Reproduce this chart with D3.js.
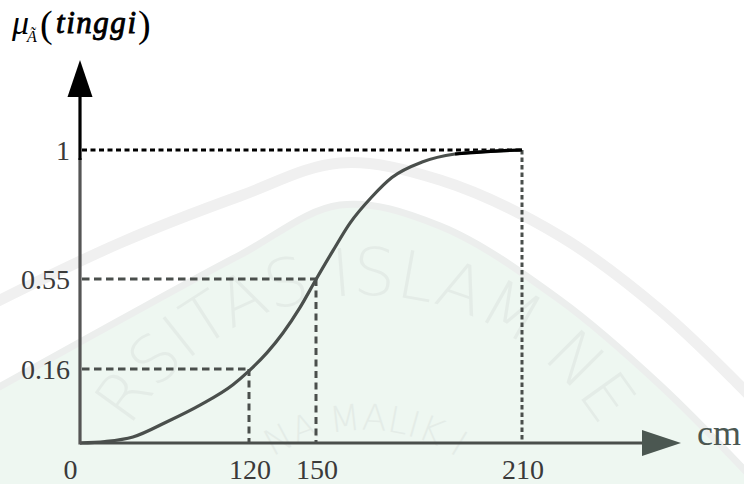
<!DOCTYPE html>
<html>
<head>
<meta charset="utf-8">
<script src="https://cdn.jsdelivr.net/npm/d3@7"></script>
<style>
  html, body { margin: 0; padding: 0; background: #fff; }
  svg { display: block; }
  text { font-family: "Liberation Serif", "Times New Roman", serif; }
</style>
</head>
<body>
<div id="chart"></div>
<script>
// membership curve of "tinggi" (height in cm)
const heightCm   = [0, 17.75, 37.6, 61.8, 85.2, 108.6, 120, 128.1, 135.2, 142.8, 150, 154.95, 159.9, 166.3, 172.1, 180.9, 190.5, 203.3, 210];
const membership = [0, 0.003, 0.013, 0.046, 0.082, 0.126, 0.156, 0.231, 0.316, 0.426, 0.548, 0.649, 0.745, 0.837, 0.904, 0.958, 0.986, 0.997, 1];

// tick values shown on the axes
const xTicks = [0, 120, 150, 210];
const yTicks = [0, 0.16, 0.55, 1];
const yTickLabels = ["", "0.16", "0.55", "1"];

// dashed guide lines (cm -> membership)
const guideCm = [120, 150, 210];
const guideMu = [0.16, 0.55, 1];

const W = 744, H = 484;
const grey = "#4a4f4c";

const svg = d3.select("#chart").append("svg")
    .attr("width", W)
    .attr("height", H);

// faint watermark in the background
const wm = svg.append("g").attr("class", "watermark");
const band = d3.line().curve(d3.curveCatmullRom);
const outer = [[-10, 305], [120, 243], [240, 196], [340, 163], [440, 180], [560, 236], [660, 310], [754, 400]];
const inner = [[-10, 392], [120, 320], [240, 255], [340, 205], [440, 226], [560, 300], [660, 385], [754, 480]];
wm.append("path")
    .attr("d", band(inner) + "L754,494L-10,494Z")
    .attr("fill", "#eef7f1");
wm.append("path").attr("d", band(outer)).attr("fill", "none")
    .attr("stroke", "#f0f0f0").attr("stroke-width", 11);
wm.append("path").attr("d", band(inner)).attr("fill", "none")
    .attr("stroke", "#eceeed").attr("stroke-width", 7);
wm.append("path").attr("id", "arcBig")
    .attr("d", "M90,570 A275,275 0 0,1 640,570").attr("fill", "none");
wm.append("path").attr("id", "arcSmall")
    .attr("d", "M195,600 A170,170 0 0,1 535,600").attr("fill", "none");
wm.append("text")
    .style("font-family", "'DejaVu Sans', sans-serif")
    .style("font-size", "66px").style("font-weight", 200)
    .attr("fill", "#e4ece7")
    .append("textPath").attr("href", "#arcBig").attr("startOffset", "50%")
    .attr("text-anchor", "middle")
    .text("RSITAS ISLAM NE");
wm.append("text")
    .style("font-family", "'DejaVu Sans', sans-serif")
    .style("font-size", "36px").style("font-weight", 200)
    .attr("fill", "#e4ece7")
    .append("textPath").attr("href", "#arcSmall").attr("startOffset", "50%")
    .attr("text-anchor", "middle")
    .text("NA MALIK I");

// piecewise scales: the figure is not drawn to scale
const x = d3.scaleLinear().domain(xTicks).range([80, 249, 316, 522]);
const y = d3.scaleLinear().domain(yTicks).range([443, 369, 279, 150]);

// dashed guides
guideCm.forEach((c, i) => {
  const top = guideMu[i] === 1;
  svg.append("line")
      .attr("x1", x(0) + 2).attr("x2", x(c))
      .attr("y1", y(guideMu[i])).attr("y2", y(guideMu[i]))
      .attr("stroke", top ? "#000" : grey)
      .attr("stroke-width", 3)
      .attr("stroke-dasharray", top ? "5,3.5" : "7.5,4.5");
  svg.append("line")
      .attr("x1", x(c)).attr("x2", x(c))
      .attr("y1", y(guideMu[i])).attr("y2", y(0))
      .attr("stroke", grey)
      .attr("stroke-width", 3)
      .attr("stroke-dasharray", top ? "4.5,3" : "7,4.5");
});

// membership curve
const pts = heightCm.map((c, i) => ({ c: c, m: membership[i] }));
const line = d3.line()
    .x(d => x(d.c))
    .y(d => y(d.m))
    .curve(d3.curveMonotoneX);

svg.append("path")
    .datum(pts)
    .attr("d", line)
    .attr("fill", "none")
    .attr("stroke", grey)
    .attr("stroke-width", 3.2);

svg.append("path")
    .datum(pts.filter(d => d.c >= 190.5))
    .attr("d", line)
    .attr("fill", "none")
    .attr("stroke", "#000")
    .attr("stroke-width", 3.2);

// x axis with arrow
svg.append("line")
    .attr("x1", x(0)).attr("x2", 645)
    .attr("y1", y(0)).attr("y2", y(0))
    .attr("stroke", grey).attr("stroke-width", 3.2);
svg.append("path")
    .attr("d", `M642,${y(0) - 13}L681,${y(0)}L642,${y(0) + 13}Z`)
    .attr("fill", "#4b5751");

// y axis with arrow
svg.append("line")
    .attr("x1", x(0)).attr("x2", x(0))
    .attr("y1", y(0) + 1.5).attr("y2", y(1) + 8)
    .attr("stroke", "#555").attr("stroke-width", 3.2);
svg.append("line")
    .attr("x1", x(0)).attr("x2", x(0))
    .attr("y1", y(1) + 10).attr("y2", 95)
    .attr("stroke", "#000").attr("stroke-width", 3.2);
svg.append("path")
    .attr("d", `M${x(0) - 12.5},97L${x(0)},60L${x(0) + 12.5},97Z`)
    .attr("fill", "#000");

// tick labels
svg.selectAll(".xlab")
  .data(xTicks)
  .enter().append("text")
    .attr("class", "xlab")
    .attr("x", d => d === 0 ? x(d) - 9.5 : x(d) + 1)
    .attr("y", 479)
    .attr("text-anchor", "middle")
    .attr("fill", "#3a3a3a")
    .style("font-size", "28px")
    .text(d => d);

svg.selectAll(".ylab")
  .data(yTicks.slice(1))
  .enter().append("text")
    .attr("class", "ylab")
    .attr("x", 70)
    .attr("y", d => y(d) + 10)
    .attr("text-anchor", "end")
    .attr("fill", "#3a3a3a")
    .style("font-size", "28px")
    .text((d, i) => yTickLabels[i + 1]);

svg.append("text")
    .attr("x", 697)
    .attr("y", 445)
    .attr("fill", "#4b5751")
    .style("font-size", "36px")
    .text("cm");

// axis title  mu_A~(tinggi)
const title = svg.append("text").attr("fill", "#000");
title.append("tspan")
    .attr("x", 12).attr("y", 34)
    .style("font-style", "italic").style("font-size", "34px")
    .text("μ");
title.append("tspan")
    .attr("x", 27).attr("y", 42)
    .style("font-style", "italic").style("font-size", "16px")
    .text("Ã");
title.append("tspan")
    .attr("x", 40).attr("y", 37)
    .style("font-size", "38px")
    .text("(");
title.append("tspan")
    .attr("x", 56).attr("y", 33)
    .attr("textLength", 80).attr("lengthAdjust", "spacing")
    .attr("stroke", "#000").attr("stroke-width", 0.9)
    .style("font-style", "italic").style("font-size", "31px")
    .text("tinggi");
title.append("tspan")
    .attr("x", 138).attr("y", 37)
    .style("font-size", "38px")
    .text(")");
</script>
</body>
</html>
